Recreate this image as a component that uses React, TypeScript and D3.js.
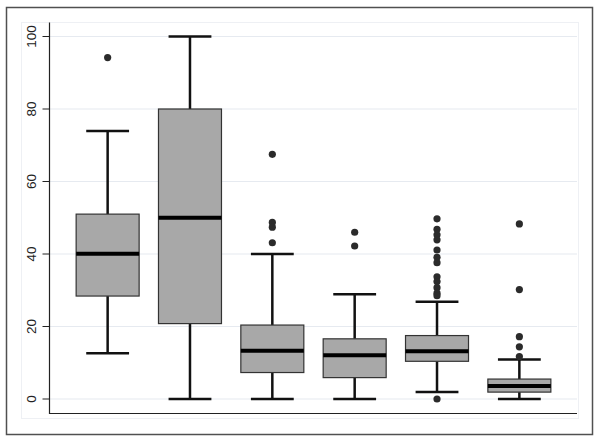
import React from "react";
import * as d3 from "d3";

const groups = ["A", "B", "C", "D", "E", "F"];
const whiskerLow = [12.6, 0, 0, 0, 1.9, 0];
const q1 = [28.4, 20.8, 7.3, 5.9, 10.4, 1.9];
const median = [40.1, 50, 13.3, 12.1, 13.2, 3.6];
const q3 = [51, 80, 20.4, 16.6, 17.5, 5.5];
const whiskerHigh = [73.9, 100, 40, 28.9, 26.8, 10.9];
const outliers: number[][] = [
  [94.2],
  [],
  [67.5, 48.7, 47.4, 43.1],
  [46, 42.2],
  [49.7, 46.8, 45.3, 43.9, 41.1, 39.1, 37.6, 33.7, 32.4, 30.7, 29.2, 28.5, 0],
  [48.3, 30.2, 17.2, 14.4, 11.7],
];
const yTicks = [0, 20, 40, 60, 80, 100];

export default function App() {
  const W = 600, H = 441;
  const x = d3.scalePoint<string>().domain(groups).range([50, 577]).padding(0.7);
  const y = d3.scaleLinear().domain([0, 100]).range([399, 36.5]);
  const step = x.step();
  const bw = step * 0.765;
  const cap = bw * 0.68;
  return (
    <svg width={W} height={H} style={{ position: "absolute", left: 0, top: 0, background: "#fff" }}
      fontFamily="Liberation Sans, Arial, sans-serif">
      <rect x={6.5} y={7.5} width={586} height={427} fill="#fff" stroke="#505050" strokeWidth={1.5} />
      <rect x={21.5} y={22.5} width={557} height={396} fill="none" stroke="#eef0f4" strokeWidth={1} />
      {yTicks.map((t) => (
        <g key={t}>
          <line x1={50} x2={577} y1={y(t)} y2={y(t)} stroke="#e6eaf0" strokeWidth={1.2} />
          <line x1={42.5} x2={49.5} y1={y(t)} y2={y(t)} stroke="#222" strokeWidth={1} />
          <text transform={`translate(35.5,${y(t)}) rotate(-90)`} textAnchor="middle" fontSize={13.5} fill="#222">{t}</text>
        </g>
      ))}
      <line x1={49.5} x2={49.5} y1={22.5} y2={414} stroke="#222" strokeWidth={1.2} />
      <line x1={49.5} x2={577} y1={413.5} y2={413.5} stroke="#222" strokeWidth={1.2} />
      {groups.map((g, i) => {
        const cx = x(g)!;
        return (
          <g key={g}>
            <line x1={cx} x2={cx} y1={y(whiskerLow[i])} y2={y(q1[i])} stroke="#111" strokeWidth={2.5} />
            <line x1={cx} x2={cx} y1={y(q3[i])} y2={y(whiskerHigh[i])} stroke="#111" strokeWidth={2.5} />
            <line x1={cx - cap / 2} x2={cx + cap / 2} y1={y(whiskerLow[i])} y2={y(whiskerLow[i])} stroke="#111" strokeWidth={2.5} />
            <line x1={cx - cap / 2} x2={cx + cap / 2} y1={y(whiskerHigh[i])} y2={y(whiskerHigh[i])} stroke="#111" strokeWidth={2.5} />
            <rect x={cx - bw / 2} y={y(q3[i])} width={bw} height={y(q1[i]) - y(q3[i])} fill="#a8a8a8" stroke="#333" strokeWidth={1.2} />
            <line x1={cx - bw / 2} x2={cx + bw / 2} y1={y(median[i])} y2={y(median[i])} stroke="#000" strokeWidth={4} />
            {outliers[i].map((v, j) => (
              <circle key={j} cx={cx} cy={y(v)} r={3.6} fill="#2b2b2b" />
            ))}
          </g>
        );
      })}
    </svg>
  );
}
